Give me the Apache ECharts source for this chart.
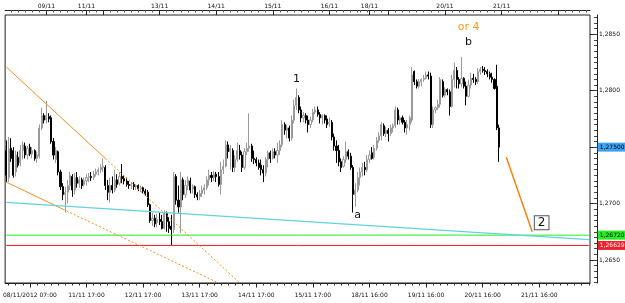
<!DOCTYPE html>
<html>
<head>
<meta charset="utf-8"/>
<script src="https://cdn.jsdelivr.net/npm/echarts@6/dist/echarts.min.js"></script>
<style>
html, body { margin: 0; padding: 0; background: #fff; }
#main { width: 625px; height: 303px; }
</style>
</head>
<body>
<div id="main"></div>
<script type="text/javascript">
// H1 candles (price values)
var opens = [
1.2747,1.2723,1.2749,1.2747,1.2728,1.2741,1.2736,1.2747,1.2751,1.2743,
1.2750,1.2744,1.2747,1.2740,1.2742,1.2767,1.2778,1.2774,1.2777,1.2776,
1.2755,1.2739,1.2746,1.2728,1.2715,1.2708,1.2710,1.2716,1.2724,1.2712,
1.2723,1.2718,1.2721,1.2717,1.2720,1.2723,1.2724,1.2723,1.2726,1.2728,
1.2730,1.2732,1.2732,1.2716,1.2710,1.2716,1.2712,1.2721,1.2718,1.2724,
1.2722,1.2720,1.2717,1.2716,1.2717,1.2715,1.2716,1.2713,1.2714,1.2711,
1.2710,1.2699,1.2685,1.2687,1.2683,1.2686,1.2684,1.2678,1.2691,1.2684,
1.2680,1.2677,1.2724,1.2703,1.2697,1.2721,1.2708,1.2716,1.2720,1.2713,
1.2715,1.2708,1.2706,1.2709,1.2712,1.2714,1.2721,1.2725,1.2723,1.2726,
1.2724,1.2717,1.2730,1.2733,1.2752,1.2746,1.2747,1.2732,1.2739,1.2747,
1.2743,1.2732,1.2746,1.2749,1.2751,1.2740,1.2739,1.2736,1.2734,1.2730,
1.2727,1.2739,1.2745,1.2740,1.2746,1.2743,1.2747,1.2752,1.2770,1.2765,
1.2767,1.2758,1.2774,1.2787,1.2794,1.2783,1.2776,1.2778,1.2774,1.2770,
1.2774,1.2781,1.2783,1.2779,1.2776,1.2778,1.2775,1.2771,1.2772,1.2759,
1.2751,1.2747,1.2737,1.2733,1.2739,1.2746,1.2742,1.2732,1.2708,1.2712,
1.2723,1.2728,1.2732,1.2730,1.2739,1.2745,1.2741,1.2749,1.2756,1.2760,
1.2769,1.2762,1.2765,1.2762,1.2767,1.2769,1.2783,1.2774,1.2776,1.2772,
1.2767,1.2770,1.2774,1.2817,1.2808,1.2804,1.2808,1.2810,1.2811,1.2814,
1.2813,1.2770,1.2783,1.2785,1.2788,1.2808,1.2796,1.2801,1.2799,1.2786,
1.2810,1.2818,1.2810,1.2806,1.2811,1.2804,1.2795,1.2805,1.2811,1.2810,
1.2808,1.2817,1.2819,1.2818,1.2817,1.2815,1.2812,1.2810,1.2804,1.2767
];
var closes = [
1.2725,1.2749,1.2740,1.2725,1.2743,1.2734,1.2747,1.2752,1.2743,1.2749,
1.2744,1.2747,1.2740,1.2743,1.2767,1.2778,1.2774,1.2778,1.2775,1.2755,
1.2743,1.2747,1.2728,1.2715,1.2708,1.2710,1.2716,1.2725,1.2712,1.2723,
1.2718,1.2721,1.2716,1.2720,1.2723,1.2724,1.2723,1.2726,1.2728,1.2730,
1.2732,1.2733,1.2716,1.2710,1.2716,1.2712,1.2721,1.2717,1.2724,1.2722,
1.2720,1.2717,1.2716,1.2717,1.2715,1.2716,1.2713,1.2714,1.2711,1.2709,
1.2699,1.2685,1.2687,1.2682,1.2686,1.2684,1.2678,1.2692,1.2684,1.2678,
1.2677,1.2724,1.2703,1.2697,1.2721,1.2708,1.2716,1.2721,1.2712,1.2715,
1.2708,1.2706,1.2709,1.2712,1.2714,1.2721,1.2725,1.2723,1.2726,1.2724,
1.2717,1.2730,1.2733,1.2752,1.2746,1.2749,1.2732,1.2739,1.2747,1.2743,
1.2732,1.2746,1.2749,1.2751,1.2740,1.2739,1.2736,1.2732,1.2730,1.2727,
1.2739,1.2745,1.2740,1.2746,1.2743,1.2747,1.2752,1.2770,1.2765,1.2767,
1.2758,1.2774,1.2787,1.2794,1.2783,1.2776,1.2778,1.2774,1.2770,1.2774,
1.2781,1.2783,1.2779,1.2776,1.2778,1.2774,1.2770,1.2772,1.2759,1.2751,
1.2747,1.2737,1.2732,1.2739,1.2746,1.2742,1.2732,1.2708,1.2712,1.2723,
1.2728,1.2732,1.2730,1.2739,1.2743,1.2740,1.2749,1.2756,1.2760,1.2770,
1.2762,1.2765,1.2762,1.2767,1.2769,1.2783,1.2774,1.2776,1.2772,1.2767,
1.2770,1.2776,1.2814,1.2808,1.2804,1.2808,1.2810,1.2811,1.2814,1.2813,
1.2770,1.2783,1.2785,1.2788,1.2810,1.2796,1.2801,1.2799,1.2786,1.2810,
1.2818,1.2810,1.2806,1.2811,1.2804,1.2795,1.2805,1.2811,1.2810,1.2808,
1.2817,1.2819,1.2818,1.2817,1.2815,1.2812,1.2810,1.2802,1.2767,1.2750
];
var lows = [
1.2719,1.2719,1.2737,1.2723,1.2724,1.2732,1.2733,1.2739,1.2740,1.2739,
1.2742,1.2740,1.2738,1.2736,1.2740,1.2765,1.2771,1.2771,1.2772,1.2753,
1.2739,1.2736,1.2725,1.2712,1.2703,1.2692,1.2700,1.2712,1.2706,1.2708,
1.2714,1.2714,1.2713,1.2715,1.2716,1.2719,1.2720,1.2721,1.2724,1.2725,
1.2727,1.2728,1.2712,1.2703,1.2701,1.2709,1.2710,1.2714,1.2716,1.2718,
1.2717,1.2715,1.2713,1.2713,1.2712,1.2712,1.2711,1.2710,1.2709,1.2707,
1.2697,1.2683,1.2680,1.2679,1.2679,1.2681,1.2677,1.2677,1.2675,1.2674,
1.2663,1.2674,1.2699,1.2692,1.2674,1.2703,1.2705,1.2712,1.2709,1.2709,
1.2705,1.2703,1.2703,1.2706,1.2708,1.2712,1.2716,1.2719,1.2720,1.2719,
1.2715,1.2708,1.2726,1.2732,1.2740,1.2730,1.2728,1.2728,1.2737,1.2739,
1.2728,1.2730,1.2743,1.2746,1.2737,1.2735,1.2733,1.2730,1.2725,1.2719,
1.2724,1.2732,1.2736,1.2739,1.2740,1.2736,1.2743,1.2750,1.2761,1.2758,
1.2755,1.2756,1.2771,1.2783,1.2780,1.2772,1.2772,1.2771,1.2763,1.2767,
1.2772,1.2779,1.2777,1.2771,1.2770,1.2771,1.2767,1.2768,1.2756,1.2747,
1.2736,1.2733,1.2728,1.2732,1.2736,1.2739,1.2730,1.2692,1.2697,1.2710,
1.2716,1.2724,1.2725,1.2728,1.2736,1.2739,1.2739,1.2747,1.2754,1.2756,
1.2760,1.2759,1.2755,1.2760,1.2763,1.2767,1.2770,1.2770,1.2770,1.2763,
1.2761,1.2765,1.2772,1.2805,1.2802,1.2802,1.2804,1.2808,1.2810,1.2810,
1.2767,1.2767,1.2780,1.2783,1.2785,1.2794,1.2794,1.2796,1.2778,1.2785,
1.2803,1.2802,1.2802,1.2803,1.2802,1.2787,1.2794,1.2802,1.2807,1.2805,
1.2806,1.2814,1.2816,1.2814,1.2812,1.2810,1.2807,1.2801,1.2765,1.2737
];
var highs = [
1.2756,1.2759,1.2758,1.2750,1.2747,1.2746,1.2752,1.2755,1.2754,1.2751,
1.2753,1.2750,1.2748,1.2746,1.2770,1.2785,1.2780,1.2791,1.2780,1.2778,
1.2758,1.2750,1.2747,1.2730,1.2718,1.2715,1.2721,1.2728,1.2726,1.2727,
1.2728,1.2724,1.2723,1.2723,1.2726,1.2727,1.2728,1.2729,1.2731,1.2732,
1.2735,1.2740,1.2734,1.2721,1.2723,1.2724,1.2730,1.2726,1.2728,1.2735,
1.2725,1.2723,1.2720,1.2719,1.2719,1.2717,1.2717,1.2716,1.2715,1.2713,
1.2712,1.2700,1.2692,1.2690,1.2691,1.2692,1.2690,1.2694,1.2693,1.2688,
1.2690,1.2728,1.2726,1.2716,1.2728,1.2723,1.2721,1.2724,1.2723,1.2717,
1.2716,1.2710,1.2712,1.2716,1.2717,1.2724,1.2730,1.2728,1.2729,1.2728,
1.2728,1.2737,1.2739,1.2756,1.2755,1.2752,1.2749,1.2743,1.2754,1.2752,
1.2746,1.2749,1.2754,1.2780,1.2753,1.2747,1.2741,1.2739,1.2739,1.2734,
1.2741,1.2747,1.2747,1.2749,1.2749,1.2754,1.2756,1.2774,1.2772,1.2770,
1.2769,1.2778,1.2792,1.2802,1.2796,1.2786,1.2781,1.2780,1.2778,1.2777,
1.2784,1.2786,1.2786,1.2781,1.2779,1.2779,1.2778,1.2776,1.2774,1.2762,
1.2756,1.2752,1.2740,1.2742,1.2755,1.2748,1.2745,1.2734,1.2718,1.2728,
1.2732,1.2736,1.2737,1.2743,1.2747,1.2750,1.2752,1.2759,1.2763,1.2772,
1.2771,1.2768,1.2767,1.2770,1.2771,1.2786,1.2785,1.2778,1.2778,1.2774,
1.2774,1.2778,1.2821,1.2818,1.2810,1.2810,1.2811,1.2814,1.2817,1.2817,
1.2816,1.2786,1.2786,1.2792,1.2812,1.2810,1.2803,1.2802,1.2801,1.2814,
1.2825,1.2821,1.2812,1.2830,1.2812,1.2808,1.2810,1.2816,1.2815,1.2812,
1.2820,1.2821,1.2822,1.2821,1.2819,1.2817,1.2816,1.2811,1.2823,1.2770
];

var slotCount = 248; // bars that fit the window, empty ones on the right

var bottomTickIdx = [10, 34, 58, 82, 106, 130, 154, 178, 202, 226];
var bottomTickText = ['08/11/2012 07:00', '11/11 17:00', '12/11 17:00', '13/11 17:00', '14/11 17:00',
    '15/11 17:00', '18/11 16:00', '19/11 16:00', '20/11 16:00', '21/11 16:00'];
var topTickIdx = [17, 34, 41, 65, 89, 113, 137, 154, 162, 186, 210, 234];
var topTickText = ['09/11', '11/11', '', '13/11', '14/11', '15/11', '16/11', '18/11', '', '20/11', '21/11', ''];

var priceMin = 1.26296, priceMax = 1.28671;
var priceTicks = [1.2650, 1.2700, 1.2750, 1.2800, 1.2850];
var priceLabels = [1.2650, 1.2700, 1.2800, 1.2850];

var bidPrice = 1.2750;
var greenLevel = 1.2672;
var redLevel = 1.26629;

// trend lines: [bar index, price]
var upperTrend = [[0, 1.2821], [42, 1.2740], [99, 1.26296]];
var lowerTrend = [[0, 1.2719], [24, 1.2695], [90, 1.26296]];
var cyanTrend = [[0, 1.2701], [247, 1.2668]];
var targetLine = [[212, 1.2741], [223, 1.2675]];

// wave labels: [bar index, price, text]
var waveLabels = [[123, 1.2810, '1'], [149, 1.2690, 'a'], [196, 1.2843, 'b']];
var orLabel = [196, 1.2856, 'or 4'];
var boxLabel = [227, 1.2683, '2'];

var cats = [];
var candles = [];
var blanks = [];
for (var i = 0; i < slotCount; i++) {
    cats.push(String(i));
    blanks.push('-');
    if (i < opens.length) candles.push([opens[i], closes[i], lows[i], highs[i]]);
    else candles.push('-');
}
var lastSlot = slotCount - 1;

var FONT = 'DejaVu Sans';
function fmtPrice(v, d) { return v.toFixed(d).replace('.', ','); }

var bottomMap = {}, topMap = {};
bottomTickIdx.forEach(function (k, n) { bottomMap[k] = bottomTickText[n]; });
topTickIdx.forEach(function (k, n) { topMap[k] = topTickText[n]; });

var minorY = [];
for (var p = 12630; p <= 12865; p += 5) minorY.push(p / 10000);

function seg(a, b, style) {
    return [{ coord: a, lineStyle: style }, { coord: b }];
}
// horizontal level: a line series through its two end slots
function levelLine(v, color) {
    var d = blanks.slice();
    d[0] = v;
    d[lastSlot] = v;
    return {
        type: 'line', xAxisIndex: 0, yAxisIndex: 0, data: d,
        connectNulls: true, showSymbol: false, symbol: 'none', silent: true,
        lineStyle: { color: color, width: 1 }, itemStyle: { color: color }
    };
}
// price tag on the right scale
function priceTag(v, bg, fg) {
    return { coord: [lastSlot, v], value: v,
        label: { show: true, position: 'right', distance: 9, formatter: fmtPrice(v, 5),
            backgroundColor: bg, color: fg, fontSize: 6, fontFamily: FONT, padding: [2, 2, 1, 2] } };
}
var orange = '#ff8a1c';

var myChart = echarts.init(document.getElementById('main'));
myChart.setOption({
    backgroundColor: '#fff',
    animation: false,
    grid: { left: -1, right: 35, top: 15, bottom: 20, show: true, borderColor: '#222', borderWidth: 1 },
    xAxis: [
        { // bottom minor ticks + line
            type: 'category', data: cats, position: 'bottom', gridIndex: 0,
            axisLine: { show: true, lineStyle: { color: '#222' } },
            axisTick: { show: true, alignWithLabel: true, length: 2.5, lineStyle: { color: '#333' },
                interval: function (idx) { return idx % 3 === 1; } },
            axisLabel: { show: false }, splitLine: { show: false }
        },
        { // bottom major ticks + labels
            type: 'category', data: cats, position: 'bottom', gridIndex: 0,
            axisLine: { show: false },
            axisTick: { show: true, alignWithLabel: true, length: 4.5, lineStyle: { color: '#222' },
                interval: function (idx) { return bottomMap[idx] !== undefined; } },
            axisLabel: { show: true, margin: 9, fontSize: 6, fontFamily: FONT, color: '#111',
                interval: function (idx) { return bottomMap[idx] !== undefined; },
                formatter: function (v, idx) { return bottomMap[idx] || ''; } },
            splitLine: { show: false }
        },
        { // top minor ticks + line
            type: 'category', data: cats, position: 'top', offset: 5, gridIndex: 0,
            axisLine: { show: true, lineStyle: { color: '#222' } },
            axisTick: { show: true, inside: true, alignWithLabel: true, length: 2.5, lineStyle: { color: '#555' },
                interval: function (idx) { return idx < 150 ? idx % 3 === 2 : idx % 3 === 0; } },
            axisLabel: { show: false }, splitLine: { show: false }
        },
        { // top major ticks + date labels
            type: 'category', data: cats, position: 'top', offset: 5, gridIndex: 0,
            axisLine: { show: false },
            axisTick: { show: true, inside: true, alignWithLabel: true, length: 5, lineStyle: { color: '#222' },
                interval: function (idx) { return topMap[idx] !== undefined; } },
            axisLabel: { show: true, margin: 1, fontSize: 6, fontFamily: FONT, color: '#111',
                interval: function (idx) { return !!topMap[idx]; },
                formatter: function (v, idx) { return topMap[idx] || ''; } },
            splitLine: { show: false }
        }
    ],
    yAxis: [
        {
            type: 'value', position: 'right', offset: 7, min: priceMin, max: priceMax, scale: true,
            axisLine: { show: true, lineStyle: { color: '#222' } },
            axisTick: { show: true, inside: true, length: 7, customValues: priceTicks, lineStyle: { color: '#222' } },
            axisLabel: { show: true, margin: 2, fontSize: 6, fontFamily: FONT, color: '#111',
                customValues: priceLabels,
                formatter: function (v) { return fmtPrice(v, 4); } },
            splitLine: { show: false }
        },
        {
            type: 'value', position: 'right', offset: 7, min: priceMin, max: priceMax, scale: true,
            axisLine: { show: false },
            axisTick: { show: true, inside: true, length: 3, customValues: minorY, lineStyle: { color: '#444' } },
            axisLabel: { show: false },
            splitLine: { show: false }
        }
    ],
    series: [
        levelLine(greenLevel, '#1fef1f'),
        levelLine(redLevel, '#f01818'),
        {
            type: 'candlestick',
            xAxisIndex: 0, yAxisIndex: 0,
            data: candles,
            barWidth: 1.6,
            itemStyle: {
                color: '#ffffff', color0: '#000000',
                borderColor: '#9a9a9a', borderColor0: '#000000', borderWidth: 1
            }
        },
        {
            // drawing objects: trend lines, price tags and wave marks
            type: 'line',
            xAxisIndex: 0, yAxisIndex: 0,
            data: blanks,
            symbol: 'none',
            markLine: {
                silent: true, symbol: ['none', 'none'], animation: false, precision: 5,
                label: { show: false },
                data: [
                    seg(upperTrend[0], upperTrend[1], { color: orange, width: 1, type: 'solid' }),
                    seg(upperTrend[1], upperTrend[2], { color: orange, width: 1, type: [2, 2] }),
                    seg(lowerTrend[0], lowerTrend[1], { color: orange, width: 1, type: 'solid' }),
                    seg(lowerTrend[1], lowerTrend[2], { color: orange, width: 1, type: [2, 2] }),
                    seg(cyanTrend[0], cyanTrend[1], { color: '#62d3dc', width: 1.2, type: 'solid' }),
                    seg(targetLine[0], targetLine[1], { color: '#ff7a00', width: 1.4, type: 'solid' })
                ]
            },
            markPoint: {
                silent: true, animation: false, symbol: 'circle', symbolSize: 0,
                data: waveLabels.map(function (w) {
                    return { coord: [w[0], w[1]], value: w[2],
                        label: { show: true, position: 'inside', formatter: w[2], color: '#111',
                            fontSize: 11, fontFamily: FONT } };
                }).concat([
                    { coord: [orLabel[0], orLabel[1]], value: orLabel[2],
                        label: { show: true, position: 'inside', formatter: orLabel[2], color: '#ff9a10',
                            fontSize: 11, fontFamily: FONT } },
                    { coord: [boxLabel[0], boxLabel[1]], value: boxLabel[2],
                        label: { show: true, position: 'inside', formatter: boxLabel[2], color: '#111',
                            fontSize: 12, fontFamily: FONT, backgroundColor: '#fff',
                            borderColor: '#555', borderWidth: 1, padding: [1, 3, 0, 3] } },
                    priceTag(bidPrice, '#3ea2f2', '#000'),
                    priceTag(greenLevel, '#22ee22', '#000'),
                    priceTag(redLevel, '#f0202a', '#fff')
                ])
            }
        }
    ]
});
</script>
</body>
</html>
